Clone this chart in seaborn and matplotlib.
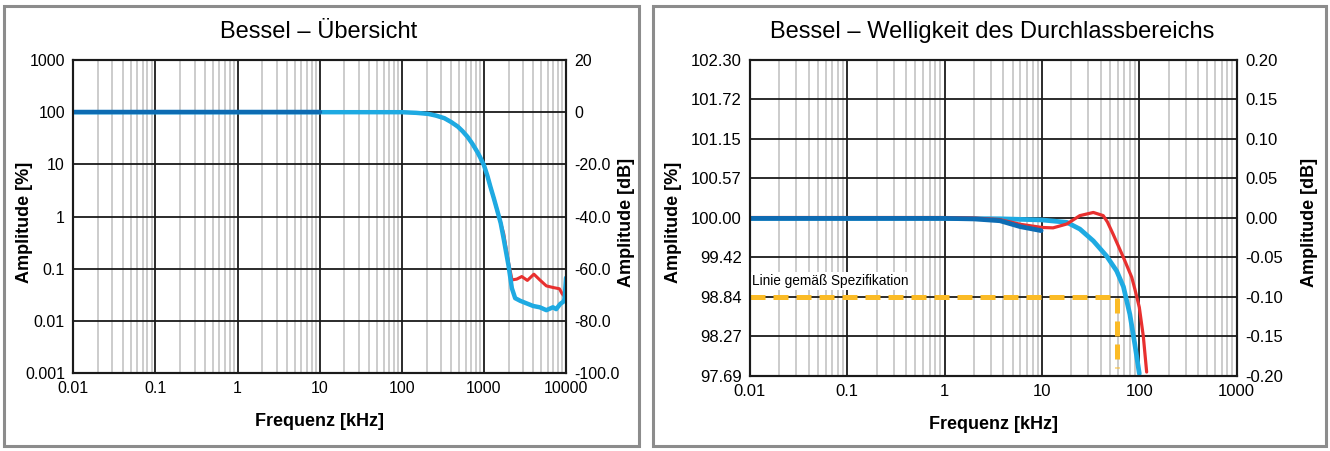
import matplotlib
matplotlib.use("Agg")
import matplotlib.pyplot as plt
import seaborn as sns
from matplotlib.patches import Rectangle
from matplotlib.ticker import FixedLocator, NullFormatter, LogLocator

sns.set_theme(style="white")
plt.rcParams['font.family'] = ['Liberation Sans', 'DejaVu Sans']
plt.rcParams['text.color'] = 'black'
plt.rcParams['axes.labelcolor'] = 'black'
plt.rcParams['xtick.color'] = 'black'
plt.rcParams['ytick.color'] = 'black'

RED = '#e8302f'
LIGHT = '#1eaae2'
DARK = '#0d6cb3'
SPEC = '#fbbb26'

# --- Übersicht (links): Frequenz in kHz, Pegel in dB ---
ov_red_f = [0.01, 100, 150, 210, 260, 330, 400, 480, 550, 630, 720, 830, 900, 1000,
            1100, 1200, 1320, 1450, 1600, 1740, 1870, 2000, 2200, 2510, 2890, 3380,
            4060, 4790, 5760, 6920, 8310, 8950, 10000]
ov_red_db = [0, 0, -0.25, -0.65, -1.3, -2.3, -3.8, -5.5, -7.3, -9.4, -12.0, -15.2, -17.3, -20.3,
             -24.3, -28.6, -33.0, -37.6, -42.5, -46.5, -52.5, -57.8, -64.3, -64.0, -63.0, -64.5,
             -62.1, -64.3, -66.6, -67.2, -67.7, -69.6, -71.3]

ov_light_f = [0.01, 100, 150, 210, 260, 330, 400, 480, 550, 630, 720, 830, 900, 1000,
              1100, 1200, 1320, 1450, 1600, 1740, 1870, 2000, 2190, 2400, 2760, 3310,
              3980, 4790, 5760, 6920, 7590, 8510, 9330, 9600, 10000]
ov_light_db = [0, 0, -0.25, -0.65, -1.3, -2.3, -3.8, -5.5, -7.3, -9.4, -12.0, -15.2, -17.3, -20.3,
               -24.3, -28.6, -33.0, -37.6, -42.5, -48.5, -54.0, -59.1, -67.5, -71.3, -72.3, -73.3,
               -74.3, -74.8, -75.9, -74.8, -75.5, -73.5, -72.6, -71.5, -63.5]

ov_dark_f = [0.01, 10]
ov_dark_db = [0, 0]

ov_pct_ticks = [0.001, 0.01, 0.1, 1, 10, 100, 1000]
ov_pct_labels = ['0.001', '0.01', '0.1', '1', '10', '100', '1000']
ov_db_ticks = [-100, -80, -60, -40, -20, 0, 20]
ov_db_labels = ['-100.0', '-80.0', '-60.0', '-40.0', '-20.0', '0', '20']
ov_f_ticks = [0.01, 0.1, 1, 10, 100, 1000, 10000]
ov_f_labels = ['0.01', '0.1', '1', '10', '100', '1000', '10000']

# --- Welligkeit (rechts) ---
rp_light_f = [0.01, 1, 3.7, 10, 18, 24.5, 33.7, 46, 58.5, 68.7, 80, 90, 100]
rp_light_db = [-0.0005, -0.0005, -0.001, -0.0025, -0.0055, -0.014, -0.029, -0.048, -0.067,
               -0.087, -0.122, -0.16, -0.197]

rp_red_f = [0.01, 1, 2, 3.7, 6, 10, 13, 18, 24.5, 33.7, 42.6, 47, 53.6, 68.7, 83.6, 90, 100, 110, 119]
rp_red_db = [0.0006, 0.0006, 0.0, -0.002, -0.008, -0.012, -0.0125, -0.0076, 0.003, 0.007,
             0.003, -0.005, -0.020, -0.050, -0.075, -0.09, -0.113, -0.15, -0.195]

rp_dark_f = [0.01, 1, 2, 3.7, 6, 9.8]
rp_dark_db = [-0.0005, -0.0005, -0.0012, -0.0035, -0.011, -0.016]

spec_f = [0.01, 58.5, 58.5]
spec_db = [-0.10, -0.10, -0.19]

rp_db_ticks = [-0.20, -0.15, -0.10, -0.05, 0.00, 0.05, 0.10, 0.15, 0.20]
rp_pct_labels = ['97.69', '98.27', '98.84', '99.42', '100.00', '100.57', '101.15', '101.72', '102.30']
rp_db_labels = ['-0.20', '-0.15', '-0.10', '-0.05', '0.00', '0.05', '0.10', '0.15', '0.20']
rp_f_ticks = [0.01, 0.1, 1, 10, 100, 1000]
rp_f_labels = ['0.01', '0.1', '1', '10', '100', '1000']

fig = plt.figure(figsize=(13.3, 4.51), dpi=100)
ax1 = fig.add_axes([0.0551, 0.1729, 0.3705, 0.694])
ax3 = fig.add_axes([0.5639, 0.1663, 0.3659, 0.7007])

# Rahmen um die Panels
for x0, w in [(0.003, 0.4774), (0.491, 0.506)]:
    fig.add_artist(Rectangle((x0, 0.011), w, 0.9756, transform=fig.transFigure,
                             fill=False, ec='#8c8c8c', lw=2.2))


def style_axes(ax):
    ax.grid(False)
    for s in ax.spines.values():
        s.set_color('#1a1a1a')
        s.set_linewidth(1.5)
    ax.tick_params(which='both', length=0, pad=6, labelsize=11.5, colors='black')


def style_grid(ax):
    ax.set_xscale('log')
    style_axes(ax)
    ax.grid(which='minor', axis='x', color='#c3c3c3', lw=1.2)
    ax.grid(which='major', axis='both', color='#1a1a1a', lw=1.3)
    ax.set_axisbelow(True)


# linkes Panel
style_grid(ax1)
ax1.set_yscale('log')
ax1.set_ylim(0.001, 1000)
ax1.yaxis.set_major_locator(FixedLocator(ov_pct_ticks))
ax1.set_yticklabels(ov_pct_labels)
ax1.yaxis.set_minor_locator(FixedLocator([]))
ax1.yaxis.set_minor_formatter(NullFormatter())

ax2 = ax1.twinx()
sns.lineplot(x=ov_red_f, y=ov_red_db, ax=ax2, color=RED, lw=2.2, estimator=None, sort=False)
sns.lineplot(x=ov_light_f, y=ov_light_db, ax=ax2, color=LIGHT, lw=3.2, estimator=None, sort=False)
sns.lineplot(x=ov_dark_f, y=ov_dark_db, ax=ax2, color=DARK, lw=3.2, estimator=None, sort=False)
style_axes(ax2)
ax2.set_ylim(-100, 20)
ax2.set_yticks(ov_db_ticks)
ax2.set_yticklabels(ov_db_labels)

ax1.set_xlim(0.01, 10000)
ax1.xaxis.set_major_locator(FixedLocator(ov_f_ticks))
ax1.set_xticklabels(ov_f_labels)
ax1.xaxis.set_minor_locator(LogLocator(base=10, subs=range(2, 10), numticks=20))
ax1.xaxis.set_minor_formatter(NullFormatter())

ax1.set_xlabel('Frequenz [kHz]', fontsize=13, fontweight='bold')
ax1.set_ylabel('Amplitude [%]', fontsize=13, fontweight='bold')
ax2.set_ylabel('Amplitude [dB]', fontsize=13, fontweight='bold')
ax1.xaxis.set_label_coords(0.5, -0.128)
ax1.yaxis.set_label_coords(-0.081, 0.48)
ax2.yaxis.set_label_coords(1.1055, 0.48)
fig.text(0.2398, 0.929, 'Bessel – Übersicht', ha='center', va='center', fontsize=17)

# rechtes Panel
style_grid(ax3)
sns.lineplot(x=rp_light_f, y=rp_light_db, ax=ax3, color=LIGHT, lw=3.4, estimator=None, sort=False)
sns.lineplot(x=rp_red_f, y=rp_red_db, ax=ax3, color=RED, lw=2.3, estimator=None, sort=False)
sns.lineplot(x=rp_dark_f, y=rp_dark_db, ax=ax3, color=DARK, lw=3.4, estimator=None, sort=False)
sns.lineplot(x=spec_f, y=spec_db, ax=ax3, color=SPEC, lw=3.6, estimator=None, sort=False)
ax3.lines[-1].set_dashes([3, 1.6])
ax3.lines[-1].set_dash_capstyle('butt')
ax3.text(0.0104, -0.0885, 'Linie gemäß Spezifikation', fontsize=9.8, ha='left', va='bottom',
         bbox=dict(facecolor='white', edgecolor='none', pad=1.5))

ax4 = ax3.twinx()
style_axes(ax4)
ax4.set_ylim(-0.2, 0.2)
ax4.set_yticks(rp_db_ticks)
ax4.set_yticklabels(rp_db_labels)
ax4.tick_params(labelsize=12)

ax3.set_xlim(0.01, 1000)
ax3.set_ylim(-0.2, 0.2)
ax3.set_yticks(rp_db_ticks)
ax3.set_yticklabels(rp_pct_labels)
ax3.xaxis.set_major_locator(FixedLocator(rp_f_ticks))
ax3.set_xticklabels(rp_f_labels)
ax3.xaxis.set_minor_locator(LogLocator(base=10, subs=range(2, 10), numticks=20))
ax3.xaxis.set_minor_formatter(NullFormatter())
ax3.tick_params(labelsize=12)

ax3.set_xlabel('Frequenz [kHz]', fontsize=13, fontweight='bold')
ax3.set_ylabel('Amplitude [%]', fontsize=13, fontweight='bold')
ax4.set_ylabel('Amplitude [dB]', fontsize=13, fontweight='bold')
ax3.xaxis.set_label_coords(0.5, -0.125)
ax3.yaxis.set_label_coords(-0.140, 0.486)
ax4.yaxis.set_label_coords(1.133, 0.486)
fig.text(0.746, 0.929, 'Bessel – Welligkeit des Durchlassbereichs', ha='center', va='center',
         fontsize=17)

fig.savefig('out.png', dpi=100)
